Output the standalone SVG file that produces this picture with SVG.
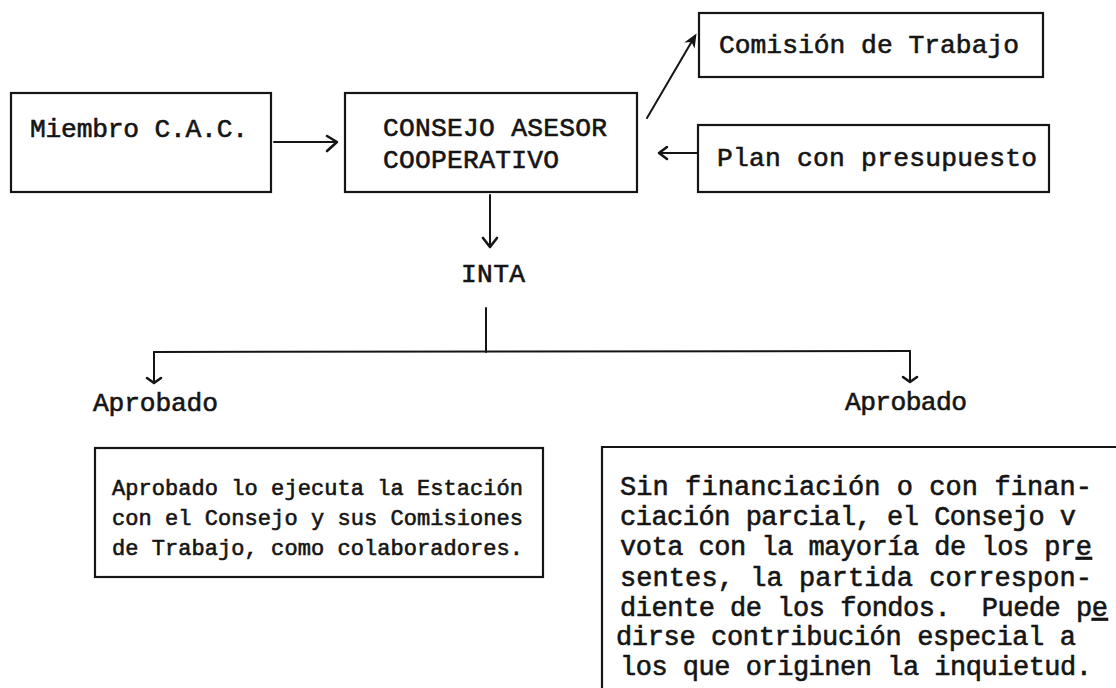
<svg xmlns="http://www.w3.org/2000/svg" width="1116" height="688" viewBox="0 0 1116 688">
<style>
  .box { fill: none; stroke: #151515; stroke-width: 2.2; }
  .ln { fill: none; stroke: #151515; stroke-width: 2; stroke-linecap: round; stroke-linejoin: round; }
  .hd { fill: none; stroke: #151515; stroke-width: 2.6; stroke-linecap: round; stroke-linejoin: round; }
  .t { font-family: "Liberation Mono", "Courier New", monospace; fill: #151515; stroke: #151515; stroke-width: 0.6; white-space: pre; }
  .t26 { font-size: 26.3px; }
  .t22 { font-size: 22px; }
  .t27 { font-size: 27px; }
</style>
<defs>
  <marker id="fill" markerWidth="14" markerHeight="14" refX="11" refY="7" orient="auto" markerUnits="userSpaceOnUse" viewBox="0 0 14 14">
    <path d="M0,1 L14,7 L0,13 L4,7 Z" fill="#151515"/>
  </marker>
</defs>
<rect width="1116" height="688" fill="#ffffff"/>

<g id="miembro">
  <rect class="box" x="11" y="93" width="260" height="99"/>
  <text class="t t26" x="30" y="137" textLength="218" lengthAdjust="spacing">Miembro C.A.C.</text>
</g>

<g id="consejo">
  <rect class="box" x="345" y="93" width="292" height="99"/>
  <text class="t t26" x="383" y="136" textLength="224" lengthAdjust="spacing">CONSEJO ASESOR</text>
  <text class="t t26" x="383" y="168" textLength="176" lengthAdjust="spacing">COOPERATIVO</text>
</g>

<g id="comision">
  <rect class="box" x="699" y="13" width="344" height="64"/>
  <text class="t t26" x="719" y="53" textLength="300" lengthAdjust="spacing">Comisión de Trabajo</text>
</g>

<g id="plan">
  <rect class="box" x="698" y="125" width="351" height="67"/>
  <text class="t t26" x="717" y="166" textLength="320" lengthAdjust="spacing">Plan con presupuesto</text>
</g>

<g id="inta">
  <text class="t t26" x="461" y="282" textLength="64" lengthAdjust="spacing">INTA</text>
</g>

<g id="aprobado-izq">
  <text class="t t26" x="93" y="411" textLength="125" lengthAdjust="spacing">Aprobado</text>
</g>

<g id="aprobado-der">
  <text class="t t26" x="845" y="410" textLength="122" lengthAdjust="spacing">Aprobado</text>
</g>

<g id="ejecuta">
  <rect class="box" x="95" y="448" width="448" height="129"/>
  <text class="t t22" x="112" y="495" textLength="411" lengthAdjust="spacing">Aprobado lo ejecuta la Estación</text>
  <text class="t t22" x="112" y="525" textLength="411" lengthAdjust="spacing">con el Consejo y sus Comisiones</text>
  <text class="t t22" x="112" y="555" textLength="411" lengthAdjust="spacing">de Trabajo, como colaboradores.</text>
</g>

<g id="financiacion">
  <path class="box" d="M1116,447 H602 V688"/>
  <text class="t t27" x="620" y="495" textLength="472" lengthAdjust="spacing">Sin financiación o con finan-</text>
  <text class="t t27" x="620" y="525" textLength="456" lengthAdjust="spacing">ciación parcial, el Consejo v</text>
  <text class="t t27" x="620" y="555" textLength="472" lengthAdjust="spacing">vota con la mayoría de los pr<tspan text-decoration="underline">e</tspan></text>
  <text class="t t27" x="620" y="586" textLength="472" lengthAdjust="spacing">sentes, la partida correspon-</text>
  <text class="t t27" x="620" y="616" textLength="488" lengthAdjust="spacing" xml:space="preserve">diente de los fondos.  Puede p<tspan text-decoration="underline">e</tspan></text>
  <text class="t t27" x="616" y="645" textLength="460" lengthAdjust="spacing">dirse contribución especial a</text>
  <text class="t t27" x="620" y="675" textLength="472" lengthAdjust="spacing">los que originen la inquietud.</text>
</g>

<g id="connectors">
  <!-- Miembro -> Consejo -->
  <line class="ln" x1="274" y1="142" x2="336" y2="142"/>
  <polyline class="hd" points="327,136 337,142 327,151"/>
  <!-- Consejo -> Comision -->
  <line class="ln" x1="647" y1="118" x2="695" y2="36" stroke-width="3" marker-end="url(#fill)"/>
  <!-- Plan -> Consejo -->
  <line class="ln" x1="697" y1="153" x2="659" y2="153"/>
  <polyline class="hd" points="667,147 659,153 667,159"/>
  <!-- Consejo -> INTA -->
  <line class="ln" x1="490" y1="195" x2="490" y2="246"/>
  <polyline class="hd" points="483,238 490,247 497,238"/>
  <!-- INTA split -->
  <line class="ln" x1="486" y1="308" x2="486" y2="352"/>
  <line class="ln" x1="154" y1="352" x2="910" y2="351"/>
  <line class="ln" x1="154" y1="352" x2="154" y2="382"/>
  <polyline class="hd" points="147,378 154,383 161,378"/>
  <line class="ln" x1="910" y1="351" x2="910" y2="381"/>
  <polyline class="hd" points="903,377 910,382 917,377"/>
</g>
</svg>
